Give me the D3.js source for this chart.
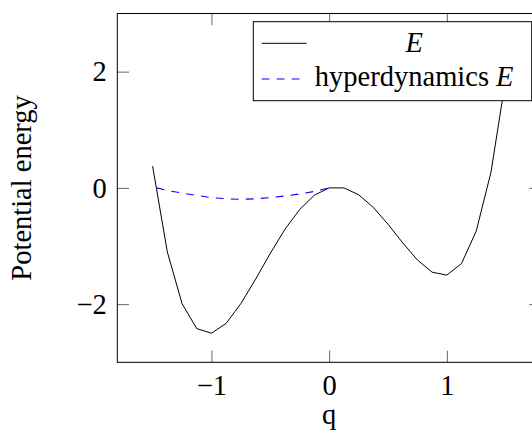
<!DOCTYPE html>
<html>
<head>
<meta charset="utf-8">
<script src="https://cdn.jsdelivr.net/npm/d3@7"></script>
<style>
  html, body { margin: 0; padding: 0; background: #fff; }
  svg { display: block; }
  svg text { font-family: "Liberation Serif", "Times New Roman", Times, "DejaVu Serif", serif !important; }
</style>
</head>
<body>
<svg id="chart" width="532" height="431" font-family="Liberation Serif, Times New Roman, serif"></svg>
<script>
// ---- data ----
const qValues = [-1.5, -1.375, -1.25, -1.125, -1, -0.875, -0.75, -0.625, -0.5, -0.375, -0.25, -0.125,
                 0, 0.125, 0.25, 0.375, 0.5, 0.625, 0.75, 0.875, 1, 1.125, 1.25, 1.375, 1.5];
const energyValues = [0.375, -1.10, -1.99, -2.42, -2.50, -2.33, -1.99, -1.57, -1.125, -0.71, -0.37, -0.125,
                      0.0, 0.0, -0.117, -0.335, -0.625, -0.945, -1.24, -1.45, -1.50, -1.30, -0.74, 0.27, 1.875];
const hyperQ = [-1.465, -1.375, -1.25, -1.125, -1, -0.875, -0.75, -0.625, -0.5, -0.375, -0.25, -0.125, 0];
const hyperValues = [0.0, -0.045, -0.088, -0.13, -0.167, -0.187, -0.196, -0.187, -0.168, -0.138, -0.104, -0.06, 0.0];
const xTicks = [-1, 0, 1];
const yTicks = [-2, 0, 2];
const legendLabels = ["E", "hyperdynamics "];
const xLabel = "q";
const yLabel = "Potential energy";

// ---- layout ----
const svg = d3.select("#chart");
const pLeft = 117.3, pRight = 541, pTop = 13.5, pBottom = 362.3;
const x = d3.scaleLinear().domain([-1.8, 1.8]).range([pLeft, pRight]);
const y = d3.scaleLinear().domain([-3, 3]).range([pBottom, pTop]);
const fs = 28.5;
const tickLen = 11.7;
const fmt = d3.format("d");
const serif = "Liberation Serif, Times New Roman, serif";

function styleAxis(g, showText) {
  g.attr("font-family", serif).attr("font-size", fs);
  g.select(".domain").remove();
  g.selectAll(".tick line").attr("stroke", "#555").attr("stroke-width", 0.9);
  g.selectAll(".tick text").attr("font-size", fs).attr("fill", "#000").attr("font-family", serif);
  if (!showText) g.selectAll(".tick text").remove();
}

svg.append("g").attr("transform", `translate(0,${pBottom})`)
  .call(d3.axisBottom(x).tickValues(xTicks).tickFormat(fmt).tickSize(-tickLen).tickPadding(12))
  .call(g => styleAxis(g, true));
svg.append("g").attr("transform", `translate(0,${pTop})`)
  .call(d3.axisTop(x).tickValues(xTicks).tickSize(-tickLen))
  .call(g => styleAxis(g, false));
svg.append("g").attr("transform", `translate(${pLeft},0)`)
  .call(d3.axisLeft(y).tickValues(yTicks).tickFormat(fmt).tickSize(-tickLen).tickPadding(10.5))
  .call(g => styleAxis(g, true));
svg.append("g").attr("transform", `translate(${pRight},0)`)
  .call(d3.axisRight(y).tickValues(yTicks).tickSize(-tickLen))
  .call(g => styleAxis(g, false));

// frame
svg.append("rect").attr("x", pLeft).attr("y", pTop)
  .attr("width", pRight - pLeft).attr("height", pBottom - pTop)
  .attr("fill", "none").attr("stroke", "#000").attr("stroke-width", 1);

// lines
const line = d3.line().x(d => x(d[0])).y(d => y(d[1]));
svg.append("path").datum(d3.zip(qValues, energyValues))
  .attr("d", line).attr("fill", "none").attr("stroke", "#000")
  .attr("stroke-width", 1).attr("stroke-linejoin", "round");
svg.append("path").datum(d3.zip(hyperQ, hyperValues))
  .attr("d", line).attr("fill", "none").attr("stroke", "#0000ff")
  .attr("stroke-width", 1.1).attr("stroke-dasharray", "7.8,7.2");

// axis labels
svg.append("text").attr("x", x(0)).attr("y", 424).attr("font-family", serif)
  .attr("text-anchor", "middle").attr("font-size", fs).text(xLabel);
svg.append("text").attr("transform", `translate(31,${(pTop + pBottom) / 2}) rotate(-90)`)
  .attr("font-family", serif)
  .attr("text-anchor", "middle").attr("font-size", fs).text(yLabel);

// legend
const lg = svg.append("g").attr("font-family", serif);
lg.append("rect").attr("x", 253.3).attr("y", 21.7).attr("width", 278.4).attr("height", 79)
  .attr("fill", "#fff").attr("stroke", "#000").attr("stroke-width", 1);
const cx = 414.2;
lg.append("line").attr("x1", 261.7).attr("x2", 306.7).attr("y1", 43.3).attr("y2", 43.3)
  .attr("stroke", "#000").attr("stroke-width", 1);
lg.append("line").attr("x1", 261.7).attr("x2", 306.7).attr("y1", 79).attr("y2", 79)
  .attr("stroke", "#0000ff").attr("stroke-width", 1.1).attr("stroke-dasharray", "7.8,7.2");
lg.append("text").attr("x", cx).attr("y", 51.7).attr("text-anchor", "middle")
  .attr("font-size", fs).attr("font-style", "italic").text(legendLabels[0]);
const t2 = lg.append("text").attr("x", cx).attr("y", 86.3).attr("text-anchor", "middle")
  .attr("font-size", fs);
t2.append("tspan").text(legendLabels[1]);
t2.append("tspan").attr("font-style", "italic").text("E");
</script>
</body>
</html>
